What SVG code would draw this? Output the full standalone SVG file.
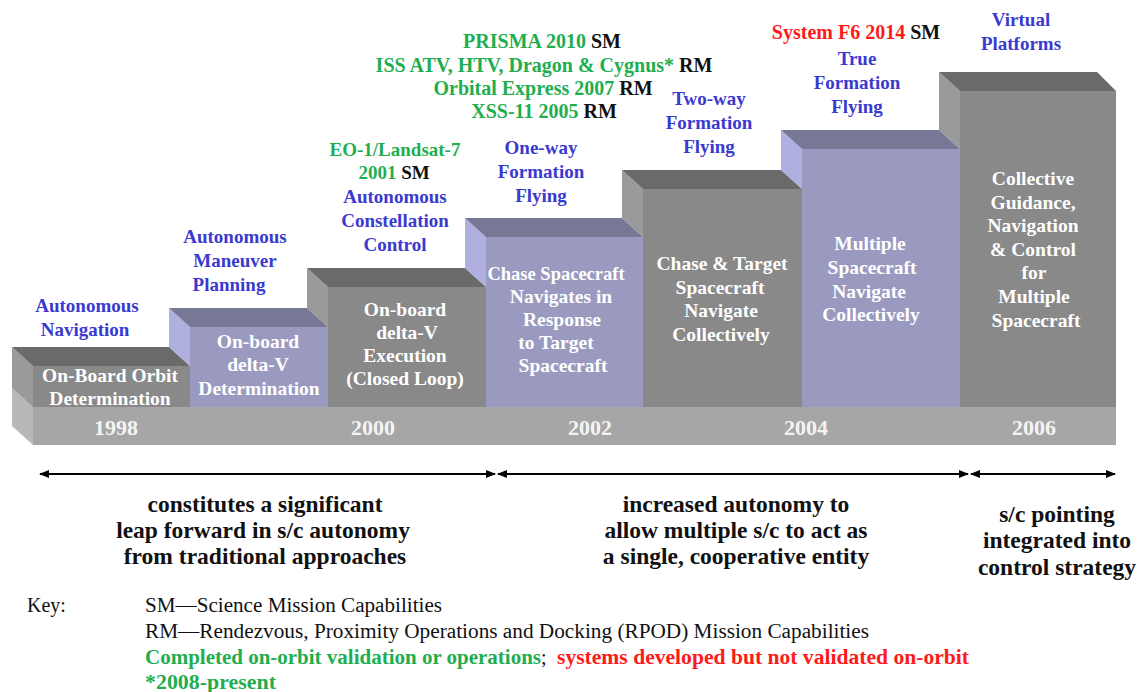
<svg xmlns="http://www.w3.org/2000/svg" width="1139" height="692" viewBox="0 0 1139 692" font-family="'Liberation Serif', 'Times New Roman', 'DejaVu Serif', serif">
<defs>
<style>
text, tspan {font-family:'Liberation Serif', 'Times New Roman', 'DejaVu Serif', serif;}
.w{fill:#ffffff;font-weight:bold;font-size:19.5px;text-anchor:middle;}
.yr{fill:#f4f4f4;font-weight:bold;font-size:22px;text-anchor:middle;}
.b{fill:#3a3ad0;font-weight:bold;font-size:19px;text-anchor:middle;}
.b2{font-size:20px;}
.bt{fill:#111111;font-weight:bold;font-size:23.5px;text-anchor:middle;}
.key{fill:#111111;font-size:20px;}
.g{fill:#1fae4f;font-weight:bold;}
.r{fill:#ff1a1a;font-weight:bold;}
.k{fill:#111111;font-weight:bold;}
.gf{fill:#898989;} .gt{fill:#6a6a6a;} .gs{fill:#9a9a9a;}
.pf{fill:#9a9ac0;} .pt{fill:#777796;} .ps{fill:#b0b0e0;}
.arr{stroke:#000;stroke-width:2;fill:none;marker-start:url(#ah);marker-end:url(#ah);}
</style>
<marker id="ah" viewBox="0 0 10 8" refX="9" refY="4" markerWidth="10" markerHeight="8" markerUnits="userSpaceOnUse" orient="auto-start-reverse">
<path d="M0,0 L10,4 L0,8 Z" fill="#000"/>
</marker>
</defs>
<rect width="1139" height="692" fill="#ffffff"/>

<g id="base">
<polygon points="12,388 33,407 33,445 12,426" fill="#b8b8b8"/>
<rect x="33" y="407" width="1083" height="38" fill="#a6a6a6"/>
<text class="yr" x="116" y="435">1998</text>
<text class="yr" x="373" y="435">2000</text>
<text class="yr" x="590" y="435">2002</text>
<text class="yr" x="806" y="435">2004</text>
<text class="yr" x="1034" y="435">2006</text>
</g>

<g id="step1">
<polygon class="gs" points="12,347 33,366 33,407 12,388"/>
<polygon class="gt" points="12,347 169,347 190,366 33,366"/>
<rect class="gf" x="33" y="366" width="157" height="41"/>
<text class="w" x="110" y="382">On-Board  Orbit</text>
<text class="w" x="110" y="405">Determination</text>
</g>

<g id="step2">
<polygon class="ps" points="169,308 190,327 190,366 169,347"/>
<polygon class="pt" points="169,308 307,308 328,327 190,327"/>
<rect class="pf" x="190" y="327" width="138" height="80"/>
<text class="w" x="258" y="348">On-board</text>
<text class="w" x="258" y="371">delta-V</text>
<text class="w" x="259" y="395">Determination</text>
</g>

<g id="step3">
<polygon class="gs" points="307,268 328,287 328,327 307,308"/>
<polygon class="gt" points="307,268 465,268 486,287 328,287"/>
<rect class="gf" x="328" y="287" width="158" height="120"/>
<text class="w" x="405" y="316">On-board</text>
<text class="w" x="407" y="339">delta-V</text>
<text class="w" x="405" y="362">Execution</text>
<text class="w" x="405" y="385">(Closed Loop)</text>
</g>

<g id="step4">
<polygon class="ps" points="465,218 486,237 486,287 465,268"/>
<polygon class="pt" points="465,218 622,218 643,237 486,237"/>
<rect class="pf" x="486" y="237" width="157" height="170"/>
<text class="w" x="556" y="280" style="font-size:18.5px">Chase Spacecraft</text>
<text class="w" x="561" y="303">Navigates in</text>
<text class="w" x="562" y="326">Response</text>
<text class="w" x="556" y="349">to Target</text>
<text class="w" x="563" y="372">Spacecraft</text>
</g>

<g id="step5">
<polygon class="gs" points="622,170 643,189 643,237 622,218"/>
<polygon class="gt" points="622,170 781,170 802,189 643,189"/>
<rect class="gf" x="643" y="189" width="159" height="218"/>
<text class="w" x="722" y="270">Chase &amp; Target</text>
<text class="w" x="720" y="294">Spacecraft</text>
<text class="w" x="721" y="317">Navigate</text>
<text class="w" x="721" y="341">Collectively</text>
</g>

<g id="step6">
<polygon class="ps" points="781,130 802,149 802,189 781,170"/>
<polygon class="pt" points="781,130 939,130 960,149 802,149"/>
<rect class="pf" x="802" y="149" width="158" height="258"/>
<text class="w" x="870" y="250">Multiple</text>
<text class="w" x="872" y="274">Spacecraft</text>
<text class="w" x="869" y="298">Navigate</text>
<text class="w" x="871" y="321">Collectively</text>
</g>

<g id="step7">
<polygon class="gs" points="939,72 960,91 960,149 939,130"/>
<polygon class="gt" points="939,72 1097,72 1116,91 960,91"/>
<rect class="gf" x="960" y="91" width="156" height="316"/>
<text class="w" x="1033" y="185">Collective</text>
<text class="w" x="1033" y="209">Guidance,</text>
<text class="w" x="1033" y="232">Navigation</text>
<text class="w" x="1033" y="256">&amp; Control</text>
<text class="w" x="1034" y="279">for</text>
<text class="w" x="1034" y="303">Multiple</text>
<text class="w" x="1036" y="327">Spacecraft</text>
</g>

<g id="label1">
<text class="b" x="87" y="312">Autonomous</text>
<text class="b" x="85" y="336">Navigation</text>
</g>
<g id="label2">
<text class="b" x="235" y="243">Autonomous</text>
<text class="b" x="235" y="267">Maneuver</text>
<text class="b" x="229" y="291">Planning</text>
</g>
<g id="label3">
<text class="b" x="395" y="156"><tspan class="g">EO-1/Landsat-7</tspan></text>
<text class="b" x="394" y="179"><tspan class="g">2001 </tspan><tspan class="k">SM</tspan></text>
<text class="b" x="395" y="203">Autonomous</text>
<text class="b" x="395" y="227">Constellation</text>
<text class="b" x="395" y="251">Control</text>
</g>
<g id="label4">
<text class="b b2" x="542" y="48"><tspan class="g">PRISMA 2010  </tspan><tspan class="k">SM</tspan></text>
<text class="b b2" x="544" y="72"><tspan class="g">ISS ATV, HTV, Dragon &amp; Cygnus* </tspan><tspan class="k">RM</tspan></text>
<text class="b b2" x="543" y="95"><tspan class="g">Orbital  Express 2007 </tspan><tspan class="k">RM</tspan></text>
<text class="b b2" x="544" y="118"><tspan class="g">XSS-11 2005 </tspan><tspan class="k">RM</tspan></text>
<text class="b" x="541" y="154">One-way</text>
<text class="b" x="541" y="178">Formation</text>
<text class="b" x="541" y="202">Flying</text>
</g>
<g id="label5">
<text class="b" x="709" y="105">Two-way</text>
<text class="b" x="709" y="129">Formation</text>
<text class="b" x="709" y="153">Flying</text>
</g>
<g id="label6">
<text class="b b2" x="856" y="39"><tspan class="r">System F6 2014 </tspan><tspan class="k">SM</tspan></text>
<text class="b" x="857" y="65">True</text>
<text class="b" x="857" y="89">Formation</text>
<text class="b" x="857" y="113">Flying</text>
</g>
<g id="label7">
<text class="b" x="1021" y="26">Virtual</text>
<text class="b" x="1021" y="50">Platforms</text>
</g>

<g id="connectors">
<line class="arr" x1="40" y1="474" x2="495" y2="474"/>
<line class="arr" x1="498" y1="474" x2="968" y2="474"/>
<line class="arr" x1="971" y1="474" x2="1115" y2="474"/>
</g>

<g id="phase1">
<text class="bt" x="265" y="512">constitutes a significant</text>
<text class="bt" x="263" y="538">leap forward in s/c autonomy</text>
<text class="bt" x="265" y="564">from traditional approaches</text>
</g>
<g id="phase2">
<text class="bt" x="736" y="512">increased autonomy to</text>
<text class="bt" x="736" y="538">allow multiple  s/c to act as</text>
<text class="bt" x="736" y="564">a single, cooperative entity</text>
</g>
<g id="phase3">
<text class="bt" x="1057" y="522">s/c pointing</text>
<text class="bt" x="1057" y="548">integrated into</text>
<text class="bt" x="1057" y="575">control strategy</text>
</g>

<g id="key">
<text class="key" x="27" y="612">Key:</text>
<text class="key" x="145" y="612" textLength="297" lengthAdjust="spacingAndGlyphs">SM—Science Mission Capabilities</text>
<text class="key" x="145" y="638" textLength="724" lengthAdjust="spacingAndGlyphs">RM—Rendezvous,  Proximity Operations and Docking (RPOD) Mission Capabilities</text>
<text class="key" x="145" y="664"><tspan class="g" textLength="396" lengthAdjust="spacingAndGlyphs">Completed on-orbit validation or operations</tspan><tspan>; </tspan><tspan class="r" x="557" textLength="412" lengthAdjust="spacingAndGlyphs">systems developed but  not validated on-orbit</tspan></text>
<text class="key" x="145" y="689"><tspan class="g" textLength="131" lengthAdjust="spacingAndGlyphs">*2008-present</tspan></text>
</g>
</svg>
